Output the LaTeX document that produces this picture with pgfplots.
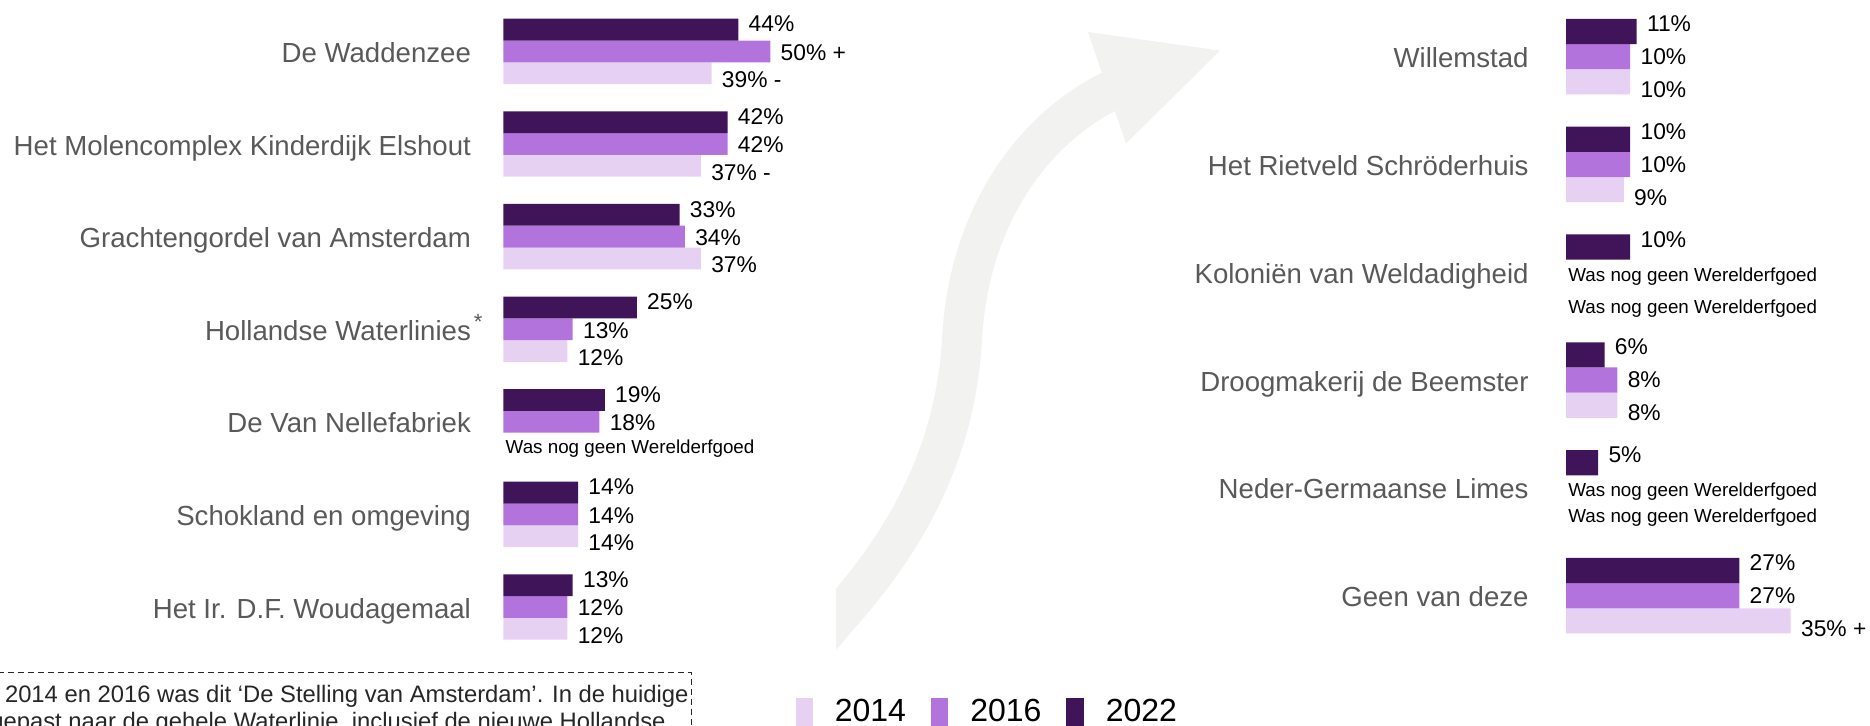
\documentclass[border=0pt]{standalone}
\usepackage{fontspec}
\setmainfont{Liberation Sans}
\usepackage{pgfplots}
\pgfplotsset{compat=1.18}

\definecolor{c14}{HTML}{E6D1F3}
\definecolor{c16}{HTML}{B373DD}
\definecolor{c22}{HTML}{401458}
\definecolor{catgray}{HTML}{595959}
\definecolor{arrowgray}{HTML}{F2F2F0}
\definecolor{notetext}{HTML}{262626}

\pgfplotsset{
  wgbar/.style={
    xbar, scale only axis, clip=false,
    xmin=0, axis line style={draw=none}, xtick=\empty,
    major tick length=0pt,
    yticklabel style={anchor=base east, inner sep=0pt, text=catgray,
      font=\fontsize{13.8}{14}\selectfont, yshift=-5.5pt},
    point meta=explicit symbolic,
    nodes near coords,
    every node near coord/.append style={anchor=west, inner sep=0pt, xshift=5pt,
      font=\fontsize{11.4}{12}\selectfont, text=black},
  },
}
\tikzset{nogeen/.style={anchor=west, inner sep=0pt, xshift=1pt,
    font=\fontsize{9.4}{10}\selectfont, text=black}}

\begin{document}
\begin{tikzpicture}
\path[use as bounding box] (0,0) rectangle (935pt,362.5pt);
\clip (0,0) rectangle (935pt,362.5pt);

% grote pijl op de achtergrond (pixels van boven af)
\begin{scope}[shift={(0pt,362.5pt)}, x=0.5pt, y=-0.5pt]
  \clip (836,0) rectangle (1300,725);
  \draw[arrowgray, line width=20pt] (806,655) -- (836,619)
    .. controls (900,548) and (955,460) .. (962,340)
    .. controls (968,220) and (1030,130) .. (1112,90);
  \fill[arrowgray] (1088,32) -- (1220,50.6) -- (1126,143.6) -- cycle;
\end{scope}

% linker deel
\begin{axis}[wgbar,
  at={(251.65pt,35.85pt)}, anchor=south west,
  width=133.5pt, height=324.1pt,
  xmax=50, ymin=-6.5, ymax=0.5,
  bar width=10.9pt,
  ytick={0,-1,-2,-3,-4,-5,-6},
  yticklabels={De Waddenzee, Het Molencomplex Kinderdijk Elshout,
    Grachtengordel van Amsterdam,
    Hollandse Waterlinies\rlap{\kern1.5pt\raisebox{5.5pt}{\fontsize{11}{11}\selectfont *}},
    De Van Nellefabriek, Schokland en omgeving, Het Ir. D.F. Woudagemaal},
  yticklabel style={xshift=-16pt},
]
\addplot[fill=c14, draw=none, bar shift=-10.9pt,
  every node near coord/.append style={yshift=-3.25pt}]
  coordinates {(39,0)[39\% -] (37,-1)[37\% -] (37,-2)[37\%] (12,-3)[12\%]
               (14,-5)[14\%] (12,-6)[12\%]};
\addplot[fill=c16, draw=none, bar shift=0pt,
  every node near coord/.append style={yshift=-0.5pt}]
  coordinates {(50,0)[50\% +] (42,-1)[42\%] (34,-2)[34\%] (13,-3)[13\%]
               (18,-4)[18\%] (14,-5)[14\%] (12,-6)[12\%]};
\addplot[fill=c22, draw=none, bar shift=10.9pt,
  every node near coord/.append style={yshift=2.75pt}]
  coordinates {(44,0)[44\%] (42,-1)[42\%] (33,-2)[33\%] (25,-3)[25\%]
               (19,-4)[19\%] (14,-5)[14\%] (13,-6)[13\%]};
\node[nogeen, yshift=-13.4pt] at (axis cs:0,-4) {Was nog geen Werelderfgoed};
\end{axis}

% rechter deel
\begin{axis}[wgbar,
  at={(783pt,37.7pt)}, anchor=south west,
  width=112.35pt, height=323.45pt,
  xmax=35, ymin=-5.5, ymax=0.5,
  bar width=12.6pt,
  ytick={0,-1,-2,-3,-4,-5},
  yticklabels={Willemstad, Het Rietveld Schröderhuis, Koloniën van Weldadigheid,
    Droogmakerij de Beemster, Neder-Germaanse Limes, Geen van deze},
  yticklabel style={xshift=-18.5pt},
  legend columns=3,
  legend style={at={(axis description cs:-3.429,-0.0744)}, anchor=north west,
    draw=none, fill=none, inner sep=0pt, outer sep=0pt,
    font=\fontsize{16}{16}\selectfont, nodes={inner sep=0pt},
    /tikz/every odd column/.append style={column sep=10.9pt},
    /tikz/every even column/.append style={column sep=12.5pt}},
  legend image code/.code={\fill[#1] (0pt,-10pt) rectangle (8.75pt,6.9pt);},
]
\addplot[fill=c14, draw=none, bar shift=-12.6pt,
  every node near coord/.append style={yshift=-3.9pt}]
  coordinates {(10,0)[10\%] (9,-1)[9\%] (8,-3)[8\%] (35,-5)[35\% +]};
\addplot[fill=c16, draw=none, bar shift=0pt]
  coordinates {(10,0)[10\%] (10,-1)[10\%] (8,-3)[8\%] (27,-5)[27\%]};
\addplot[fill=c22, draw=none, bar shift=12.6pt,
  every node near coord/.append style={yshift=3.9pt}]
  coordinates {(11,0)[11\%] (10,-1)[10\%] (10,-2)[10\%] (6,-3)[6\%]
               (5,-4)[5\%] (27,-5)[27\%]};
\legend{2014,2016,2022}
\node[nogeen, yshift=-2.2pt] at (axis cs:0,-2) {Was nog geen Werelderfgoed};
\node[nogeen, yshift=-18.3pt] at (axis cs:0,-2) {Was nog geen Werelderfgoed};
\node[nogeen, yshift=-1.7pt] at (axis cs:0,-4) {Was nog geen Werelderfgoed};
\node[nogeen, yshift=-14.8pt] at (axis cs:0,-4) {Was nog geen Werelderfgoed};
\end{axis}

% voetnoot
\draw[notetext, line width=0.5pt, dash pattern=on 3pt off 2pt]
  (-20pt,-20pt) rectangle (345.85pt,26.2pt);
\node[anchor=base east, inner sep=0pt, font=\fontsize{11.9}{12}\selectfont, text=notetext]
  at (344.5pt,11.25pt) {In 2014 en 2016 was dit ‘De Stelling van Amsterdam’. In de huidige};
\node[anchor=base east, inner sep=0pt, font=\fontsize{11.9}{12}\selectfont, text=notetext]
  at (333pt,-2pt) {meting is dit aangepast naar de gehele Waterlinie, inclusief de nieuwe Hollandse};
\end{tikzpicture}
\end{document}
